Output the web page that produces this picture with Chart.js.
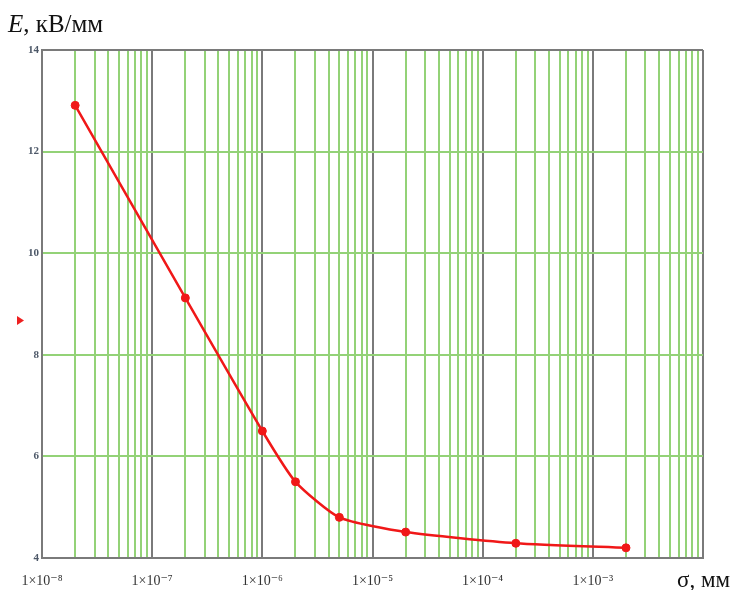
<!DOCTYPE html>
<html>
<head>
<meta charset="utf-8">
<script src="https://cdn.jsdelivr.net/npm/chart.js@4/dist/chart.umd.min.js"></script>
<style>
  html, body { margin: 0; padding: 0; background: #fff; }
  #wrap { width: 742px; height: 590px; position: relative; }
</style>
</head>
<body>
<div id="wrap"><canvas id="chart"></canvas></div>
<script>
// thickness sigma, mm
var sigma = [2e-8, 2e-7, 1e-6, 2e-6, 5e-6, 2e-5, 2e-4, 2e-3];
// field strength E, kV/mm
var fieldE = [12.91, 9.12, 6.5, 5.5, 4.8, 4.51, 4.29, 4.2];

var decades = [1e-8, 1e-7, 1e-6, 1e-5, 1e-4, 1e-3, 1e-2];
var decadeLabels = ['1×10⁻⁸', '1×10⁻⁷', '1×10⁻⁶', '1×10⁻⁵', '1×10⁻⁴', '1×10⁻³', ''];
var minorSteps = [1, 2, 3, 4, 5, 6, 7, 8, 9];
var yTicks = [4, 6, 8, 10, 12, 14];

var green = '#93d277';
var gray = '#7a7a7a';

function isDecade(v) {
    var l = Math.log10(v);
    return Math.abs(l - Math.round(l)) < 1e-6;
}

function decadeIndex(v) {
    var l = Math.round(Math.log10(v));
    for (var i = 0; i < decades.length; i++) {
        if (Math.round(Math.log10(decades[i])) === l) return i;
    }
    return -1;
}

var points = sigma.map(function (s, i) { return { x: s, y: fieldE[i] }; });

var decor = {
    id: 'decor',
    afterDraw: function (chart) {
        var c = chart.ctx;
        c.save();
        c.fillStyle = '#111';
        c.textBaseline = 'alphabetic';
        c.font = 'italic 25px "Liberation Serif", "DejaVu Serif", serif';
        c.fillText('E', 8, 32);
        var w = c.measureText('E').width;
        c.font = '25px "Liberation Serif", "DejaVu Serif", serif';
        c.fillText(', кВ/мм', 8 + w, 32);
        c.font = '23px "Liberation Serif", "DejaVu Serif", serif';
        c.fillText('σ, мм', 677, 587);
        // small red marker on the left
        c.fillStyle = '#ee2020';
        c.beginPath();
        c.moveTo(17, 316);
        c.lineTo(24, 320.5);
        c.lineTo(17, 325);
        c.closePath();
        c.fill();
        c.restore();
    }
};

new Chart(document.getElementById('chart'), {
    type: 'line',
    data: {
        datasets: [{
            data: points,
            borderColor: '#f01818',
            backgroundColor: '#f01818',
            borderWidth: 2.5,
            pointRadius: 4,
            pointBorderWidth: 1,
            pointHoverRadius: 4,
            tension: 0.2,
            fill: false
        }]
    },
    options: {
        responsive: true,
        maintainAspectRatio: false,
        animation: false,
        layout: { padding: { top: 50, right: 39, left: 0, bottom: 0 } },
        plugins: { legend: { display: false }, tooltip: { enabled: false } },
        scales: {
            x: {
                type: 'logarithmic',
                min: 1e-8,
                max: 1e-2,
                afterBuildTicks: function (scale) {
                    var t = [];
                    decades.forEach(function (d, i) {
                        minorSteps.forEach(function (m) {
                            if (i < decades.length - 1 || m === 1) t.push({ value: d * m });
                        });
                    });
                    scale.ticks = t;
                },
                afterFit: function (scale) { scale.height = 32; },
                grid: {
                    drawTicks: false,
                    lineWidth: 2,
                    color: function (ctx) {
                        return ctx.tick && isDecade(ctx.tick.value) ? gray : green;
                    }
                },
                border: { display: true, color: gray, width: 2 },
                ticks: {
                    autoSkip: false,
                    maxRotation: 0,
                    padding: 15,
                    color: '#333',
                    font: { family: '"Liberation Serif", "DejaVu Serif", serif', size: 14 },
                    callback: function (v) {
                        if (!isDecade(v)) return '';
                        var i = decadeIndex(v);
                        return i >= 0 ? decadeLabels[i] : '';
                    }
                }
            },
            y: {
                type: 'linear',
                min: 4,
                max: 14,
                afterBuildTicks: function (scale) {
                    scale.ticks = yTicks.map(function (v) { return { value: v }; });
                },
                afterFit: function (scale) { scale.width = 42; },
                grid: {
                    drawTicks: false,
                    lineWidth: 2,
                    color: function (ctx) {
                        return ctx.tick && (ctx.tick.value === 14 || ctx.tick.value === 4) ? gray : green;
                    }
                },
                border: { display: true, color: gray, width: 2 },
                ticks: {
                    padding: 3,
                    color: '#4d5868',
                    font: { family: '"Liberation Serif", "DejaVu Serif", serif', size: 11, weight: 'bold' }
                }
            }
        }
    },
    plugins: [decor]
});
</script>
</body>
</html>
